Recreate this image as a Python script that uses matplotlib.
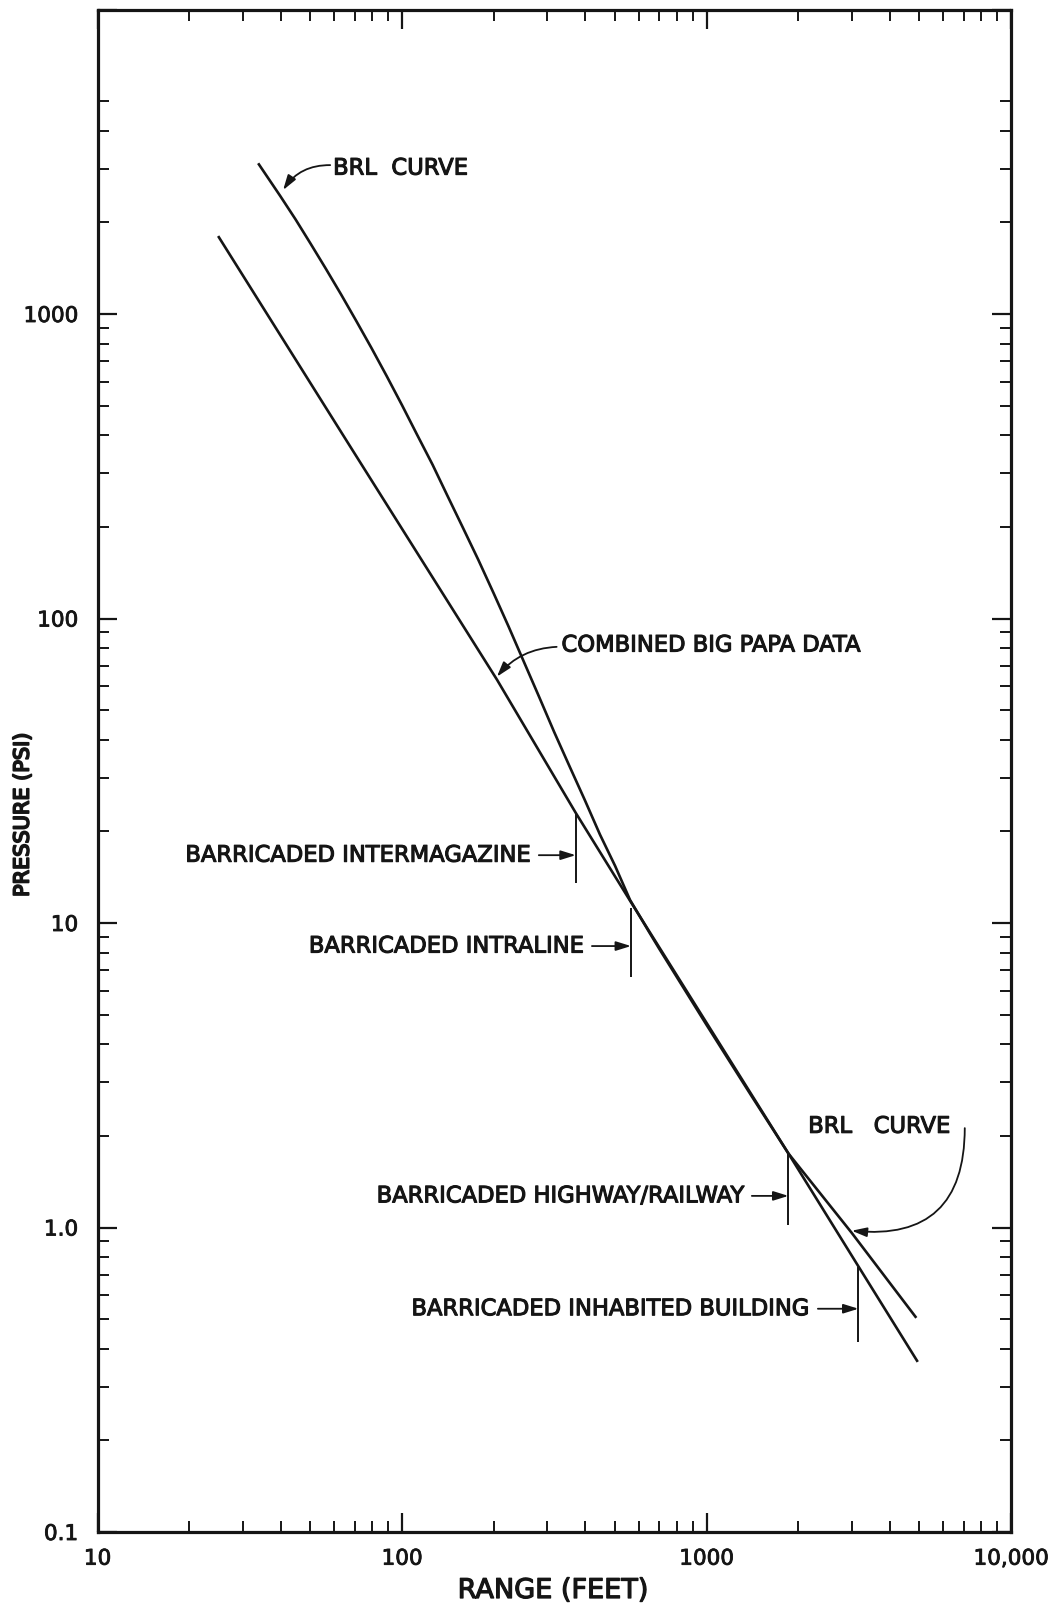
import matplotlib
matplotlib.use('Agg')
import matplotlib.pyplot as plt
import matplotlib.patheffects as pe
from matplotlib.ticker import FixedLocator, FixedFormatter, NullFormatter

plt.rcParams['font.family'] = ['DejaVu Sans']

# ---------------- data ----------------
bigpapa_range = [24.9, 67.5, 205, 372, 565, 1858, 3155, 4940]
bigpapa_psi = [1803, 368, 63, 23.0, 11.7, 1.75, 0.745, 0.362]

brl_range = [33.7, 39.8, 44.7, 50.1, 56.2, 63.1, 70.8, 79.4, 89.1, 100, 112,
             126, 141, 158, 178, 200, 224, 251, 282, 316, 355, 398, 447, 501,
             561, 650, 700, 1000, 1400, 1858, 2999, 4887]
brl_psi = [3126, 2443, 2046, 1702, 1409, 1159, 948, 773, 625, 502, 402,
           320, 253, 200, 156, 121, 94.0, 72.3, 55.3, 42.4, 32.7, 25.4, 19.5, 15.4,
           11.9, 9.29, 8.22, 4.63, 2.72, 1.75, 0.96, 0.505]

barricade_labels = ['BARRICADED INTERMAGAZINE', 'BARRICADED INTRALINE',
                    'BARRICADED HIGHWAY/RAILWAY', 'BARRICADED INHABITED BUILDING']
barricade_range = [372, 565, 1858, 3155]
barricade_top = [22.9, 11.2, 1.75, 0.743]
barricade_bottom = [13.5, 6.67, 1.02, 0.421]
barricade_label_y = [16.7, 8.4, 1.27, 0.541]
barricade_label_x = [267, 399, 1337, 2203]

xtick_vals = [10, 100, 1000, 10000]
xtick_labels = ['10', '100', '1000', '10,000']
ytick_vals = [0.1, 1, 10, 100, 1000, 10000]
ytick_labels = ['0.1', '1.0', '10', '100', '1000', '']

# ---------------- figure ----------------
W, H = 1048, 1609
fig = plt.figure(figsize=(W / 100, H / 100), dpi=100)
ax = fig.add_axes([97.5 / W, 1 - 1532 / H, (1011 - 97.5) / W, (1532 - 9.5) / H])
ax.set_xscale('log')
ax.set_yscale('log')
ax.set_xlim(10, 10000)
ax.set_ylim(0.1, 10000)

ink = '#151515'
bold = [pe.withStroke(linewidth=0.8, foreground=ink)]

ax.plot(bigpapa_range, bigpapa_psi, color=ink, lw=1.9, solid_capstyle='butt')
ax.plot(brl_range, brl_psi, color=ink, lw=1.9, solid_capstyle='butt',
        solid_joinstyle='round')

# barricade marks
ax.vlines(barricade_range, barricade_bottom, barricade_top, color=ink, lw=1.4)

label_fs = 16.3
arrow_kw = dict(arrowstyle='-|>,head_length=0.45,head_width=0.14', color=ink,
                lw=1.3, shrinkA=3, shrinkB=0, mutation_scale=20)
for lab, lx, ly, rx in zip(barricade_labels, barricade_label_x,
                           barricade_label_y, barricade_range):
    ax.annotate(lab, xy=(rx, ly), xytext=(lx, ly), ha='right', va='center',
                fontsize=label_fs, color=ink, arrowprops=arrow_kw,
                path_effects=bold)

# curve labels
ax.text(59.4, 3014, 'BRL  CURVE', ha='left', va='center', fontsize=label_fs,
        color=ink, path_effects=bold)
ax.annotate('', xy=(40.7, 2553), xytext=(58.1, 3083),
            arrowprops=dict(arrow_kw, shrinkA=0, connectionstyle='arc3,rad=0.27'))

ax.text(334, 81.8, 'COMBINED BIG PAPA DATA', ha='left', va='center',
        fontsize=label_fs, color=ink, path_effects=bold)
ax.annotate('', xy=(205, 64.4), xytext=(322, 80.7),
            arrowprops=dict(arrow_kw, shrinkA=0, connectionstyle='arc3,rad=0.22'))

ax.text(2158, 2.15, 'BRL   CURVE', ha='left', va='center', fontsize=label_fs,
        color=ink, path_effects=bold)
ax.annotate('', xy=(2999, 0.976), xytext=(7050, 2.12),
            arrowprops=dict(arrow_kw, shrinkA=0, connectionstyle='arc3,rad=-0.55'))

# ---------------- axes styling ----------------
for sp in ax.spines.values():
    sp.set_linewidth(2.3)
    sp.set_color(ink)

xminor = [m * 10 ** e for e in (1, 2, 3) for m in range(2, 10)]
yminor = [m * 10 ** e for e in (-1, 0, 1, 2) for m in range(2, 10)] + [2000, 3000, 4000, 5000]
ax.xaxis.set_major_locator(FixedLocator(xtick_vals))
ax.xaxis.set_major_formatter(FixedFormatter(xtick_labels))
ax.xaxis.set_minor_locator(FixedLocator(xminor))
ax.xaxis.set_minor_formatter(NullFormatter())
ax.yaxis.set_major_locator(FixedLocator(ytick_vals))
ax.yaxis.set_major_formatter(FixedFormatter(ytick_labels))
ax.yaxis.set_minor_locator(FixedLocator(yminor))
ax.yaxis.set_minor_formatter(NullFormatter())

ax.tick_params(which='both', direction='in', top=True, right=True, color=ink)
ax.tick_params(which='major', length=14, width=1.6, labelsize=15.5, labelcolor=ink)
ax.tick_params(which='minor', length=8, width=1.4)
ax.tick_params(axis='y', which='major', pad=14)
ax.tick_params(axis='x', which='major', pad=12)
for t in ax.get_xticklabels() + ax.get_yticklabels():
    t.set_path_effects([pe.withStroke(linewidth=0.6, foreground=ink)])

fig.text(22.6 / W, 1 - 815 / H, 'PRESSURE (PSI)', rotation=90, ha='center',
         va='center', fontsize=15, color=ink,
         path_effects=[pe.withStroke(linewidth=1.3, foreground=ink)])
fig.text(553 / W, 1 - 1591 / H, 'RANGE (FEET)', ha='center', va='center',
         fontsize=19.5, color=ink, path_effects=[pe.withStroke(linewidth=0.9, foreground=ink)])

fig.savefig('out.png', dpi=100, facecolor='white')
